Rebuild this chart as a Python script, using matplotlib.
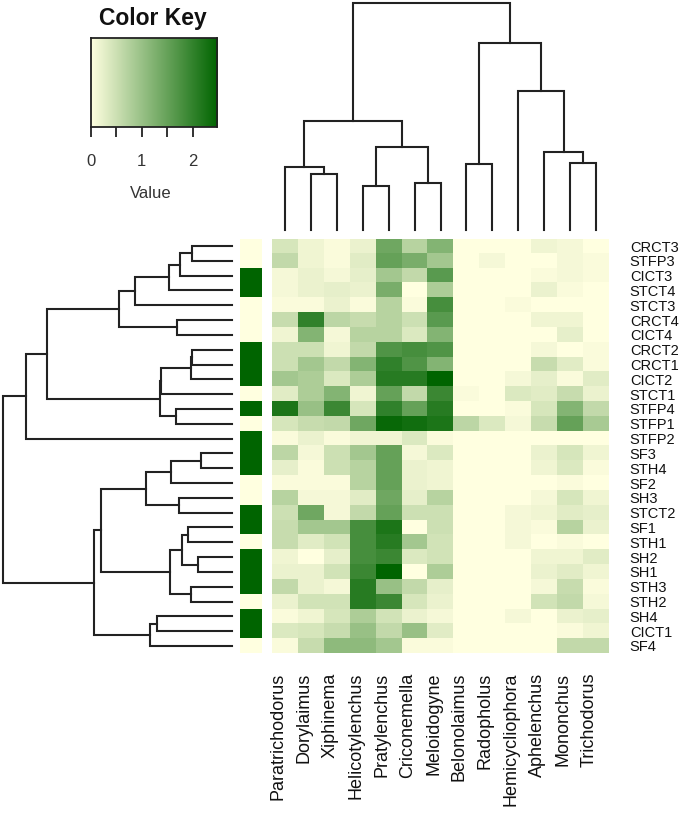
import numpy as np
import matplotlib
matplotlib.use('Agg')
import matplotlib.pyplot as plt
from matplotlib.colors import LinearSegmentedColormap
from matplotlib.transforms import ScaledTranslation

plt.rcParams['font.family'] = ['Liberation Sans', 'DejaVu Sans']

# column (genus) order as shown
genera = ['Paratrichodorus', 'Dorylaimus', 'Xiphinema', 'Helicotylenchus',
          'Pratylenchus', 'Criconemella', 'Meloidogyne', 'Belonolaimus',
          'Radopholus', 'Hemicycliophora', 'Aphelenchus', 'Mononchus',
          'Trichodorus']

# row (sample) order as shown
samples = ['CRCT3', 'STFP3', 'CICT3', 'STCT4', 'STCT3', 'CRCT4', 'CICT4',
           'CRCT2', 'CRCT1', 'CICT2', 'STCT1', 'STFP4', 'STFP1', 'STFP2',
           'SF3', 'STH4', 'SF2', 'SH3', 'STCT2', 'SF1', 'STH1', 'SH2',
           'SH1', 'STH3', 'STH2', 'SH4', 'CICT1', 'SF4']

# side colour bar: 1 = dark green, 0 = light yellow
row_group = [0, 0, 1, 1, 0, 0, 0, 1, 1, 1, 0, 1, 0, 1,
             1, 1, 0, 0, 1, 1, 0, 1, 1, 1, 0, 1, 1, 0]

# values (rows = samples, cols = genera)
values = [
    [0.40, 0.15, 0.05, 0.20, 1.40, 0.70, 1.20, 0.00, 0.00, 0.00, 0.15, 0.10, 0.00],
    [0.60, 0.15, 0.05, 0.30, 1.50, 1.30, 0.90, 0.00, 0.10, 0.00, 0.00, 0.10, 0.05],
    [0.10, 0.20, 0.10, 0.25, 0.90, 0.60, 1.60, 0.00, 0.00, 0.00, 0.05, 0.10, 0.05],
    [0.10, 0.20, 0.25, 0.20, 1.30, 0.00, 0.80, 0.00, 0.00, 0.00, 0.20, 0.05, 0.00],
    [0.05, 0.05, 0.20, 0.05, 0.70, 0.05, 1.80, 0.00, 0.00, 0.05, 0.00, 0.00, 0.00],
    [0.55, 2.00, 0.65, 0.55, 0.70, 0.50, 1.60, 0.00, 0.00, 0.00, 0.15, 0.15, 0.00],
    [0.15, 1.20, 0.10, 0.70, 0.70, 0.35, 1.20, 0.00, 0.00, 0.00, 0.00, 0.25, 0.00],
    [0.50, 0.50, 0.15, 0.60, 1.70, 1.80, 1.70, 0.00, 0.00, 0.00, 0.10, 0.00, 0.05],
    [0.50, 0.90, 0.60, 1.20, 2.00, 1.70, 1.20, 0.00, 0.00, 0.00, 0.55, 0.30, 0.05],
    [0.90, 0.80, 0.35, 0.80, 2.10, 2.10, 2.48, 0.00, 0.00, 0.10, 0.25, 0.05, 0.30],
    [0.30, 0.80, 1.20, 0.15, 1.50, 0.60, 1.90, 0.05, 0.00, 0.35, 0.30, 0.55, 0.20],
    [2.20, 1.00, 1.90, 0.40, 2.00, 1.50, 2.10, 0.00, 0.00, 0.05, 0.40, 1.20, 0.60],
    [0.40, 0.55, 0.60, 1.40, 2.40, 2.30, 2.20, 0.65, 0.35, 0.10, 0.55, 1.50, 0.85],
    [0.05, 0.20, 0.05, 0.15, 0.15, 0.35, 0.05, 0.00, 0.00, 0.00, 0.00, 0.00, 0.00],
    [0.65, 0.10, 0.50, 0.90, 1.50, 0.10, 0.35, 0.00, 0.00, 0.00, 0.20, 0.40, 0.15],
    [0.25, 0.05, 0.50, 0.70, 1.50, 0.20, 0.15, 0.00, 0.00, 0.00, 0.15, 0.35, 0.05],
    [0.05, 0.05, 0.05, 0.70, 1.50, 0.20, 0.15, 0.00, 0.00, 0.00, 0.00, 0.05, 0.00],
    [0.70, 0.10, 0.10, 0.30, 1.40, 0.25, 0.70, 0.00, 0.00, 0.00, 0.10, 0.40, 0.15],
    [0.50, 1.40, 0.10, 0.60, 1.50, 0.50, 0.50, 0.00, 0.00, 0.10, 0.15, 0.30, 0.25],
    [0.55, 0.90, 0.90, 1.80, 2.20, 0.00, 0.50, 0.00, 0.00, 0.10, 0.05, 0.70, 0.20],
    [0.55, 0.30, 0.45, 1.80, 2.10, 0.90, 0.45, 0.00, 0.00, 0.10, 0.00, 0.05, 0.00],
    [0.15, 0.00, 0.25, 1.80, 1.90, 0.35, 0.45, 0.00, 0.00, 0.00, 0.15, 0.15, 0.30],
    [0.20, 0.20, 0.45, 1.90, 2.48, 0.00, 0.80, 0.00, 0.00, 0.00, 0.20, 0.30, 0.15],
    [0.60, 0.20, 0.10, 2.10, 1.00, 0.60, 0.25, 0.00, 0.00, 0.00, 0.10, 0.55, 0.05],
    [0.20, 0.45, 0.45, 2.10, 1.90, 0.40, 0.20, 0.00, 0.00, 0.00, 0.45, 0.60, 0.10],
    [0.05, 0.15, 0.40, 0.80, 0.45, 0.20, 0.10, 0.00, 0.00, 0.10, 0.00, 0.20, 0.25],
    [0.35, 0.40, 0.55, 1.00, 0.60, 1.00, 0.30, 0.00, 0.00, 0.00, 0.00, 0.05, 0.15],
    [0.05, 0.55, 1.10, 1.10, 0.90, 0.05, 0.05, 0.00, 0.00, 0.00, 0.00, 0.60, 0.60],
]

# dendrogram merges (child a, child b, height), new nodes numbered from n
row_merges = [
    (0, 1, 39.7), (28, 2, 52.3), (29, 3, 63.0), (30, 4, 97.3),
    (5, 6, 55.0), (31, 32, 113.0), (7, 8, 39.7), (34, 9, 41.3),
    (11, 12, 56.3), (35, 10, 71.3), (37, 36, 72.0), (33, 38, 185.0),
    (39, 13, 205.7), (14, 15, 31.0), (41, 16, 61.3), (17, 18, 53.0),
    (42, 43, 85.7), (19, 20, 44.0), (21, 22, 33.7), (45, 46, 49.7),
    (23, 24, 41.3), (47, 48, 62.3), (44, 49, 131.3), (25, 26, 75.0),
    (51, 27, 81.7), (50, 52, 138.0), (40, 53, 229.0),
]
col_merges = [
    (1, 2, 56.3), (0, 13, 62.7), (3, 4, 44.0), (5, 6, 47.3),
    (15, 16, 83.0), (14, 17, 109.0), (7, 8, 66.0), (11, 12, 67.3),
    (10, 20, 78.0), (9, 21, 139.0), (19, 22, 186.7), (18, 23, 226.7),
]

data = np.array(values)
vmax = data.max()
cmap = LinearSegmentedColormap.from_list('ygreen', ['#FFFFE0', '#006400'])

W, H = 685, 816
fig = plt.figure(figsize=(W / 100, H / 100), dpi=100)


def px_axes(x0, y0, x1, y1):
    return fig.add_axes([x0 / W, 1 - y1 / H, (x1 - x0) / W, (y1 - y0) / H])


def draw_dendro(ax, merges, n, side):
    pos = {i: float(i) for i in range(n)}
    hgt = {i: 0.0 for i in range(n)}
    for k, (a, b, h) in enumerate(merges):
        xs = [pos[a], pos[a], pos[b], pos[b]]
        hs = [hgt[a], h, h, hgt[b]]
        if side == 'top':
            ax.plot(xs, hs, color='#222222', lw=1.5, clip_on=False,
                    solid_joinstyle='miter')
        else:
            ax.plot(hs, xs, color='#222222', lw=1.5, clip_on=False,
                    solid_joinstyle='miter')
        pos[n + k] = (pos[a] + pos[b]) / 2
        hgt[n + k] = h
    ax.axis('off')


nr, nc = data.shape
y_top, y_bot = 238.6, 653.4
x_left, x_right = 272, 609

# heatmap
ax = px_axes(x_left, y_top, x_right, y_bot)
ax.imshow(data, cmap=cmap, vmin=0, vmax=vmax, aspect='auto',
          interpolation='nearest')
ax.set_xticks(range(nc))
ax.set_xticklabels(genera, rotation=90, fontsize=13, color='#111111')
ax.set_yticks(range(nr))
ax.set_yticklabels(samples, fontsize=10.5, color='#111111')
ax.yaxis.tick_right()
ax.tick_params(axis='x', length=0, pad=14)
ax.tick_params(axis='y', length=0, pad=15)
shift = ScaledTranslation(-7 / 100, 0, fig.dpi_scale_trans)
for lab in ax.get_xticklabels():
    lab.set_transform(lab.get_transform() + shift)
for s in ax.spines.values():
    s.set_visible(False)

# side colour bar
ax_side = px_axes(240, y_top, 262, y_bot)
ax_side.imshow(np.array(row_group)[:, None], cmap=LinearSegmentedColormap.from_list(
    'side', ['#FFFFE0', '#006400']), vmin=0, vmax=1, aspect='auto',
    interpolation='nearest')
ax_side.axis('off')

# row dendrogram
ax_rd = px_axes(3, y_top, 232, y_bot)
draw_dendro(ax_rd, row_merges, nr, 'left')
ax_rd.set_ylim(nr - 0.5, -0.5)
ax_rd.set_xlim(229, 0)

# column dendrogram
ax_cd = px_axes(x_left, 3.3, x_right, 230)
draw_dendro(ax_cd, col_merges, nc, 'top')
ax_cd.set_xlim(-0.5, nc - 0.5)
ax_cd.set_ylim(0, 226.7)

# colour key
ax_key = px_axes(90.7, 38.3, 217.3, 126.7)
grad = np.linspace(0, vmax, 256)[None, :]
ax_key.imshow(grad, cmap=cmap, vmin=0, vmax=vmax, aspect='auto',
              extent=(0, vmax, 0, 1))
ax_key.set_xlim(0, vmax)
ax_key.set_yticks([])
ax_key.set_xticks([0, 0.5, 1, 1.5, 2])
ax_key.set_xticklabels(['0', '', '1', '', '2'], fontsize=12, color='#333333')
ax_key.tick_params(axis='x', length=7, width=1.3, pad=13, color='#222222')
for s in ax_key.spines.values():
    s.set_linewidth(1.3)
    s.set_color('#222222')
fig.text(153 / W, 1 - 19 / H, 'Color Key', fontsize=16.5, fontweight='bold',
         ha='center', va='center', color='#111111')
fig.text(151 / W, 1 - 193 / H, 'Value', fontsize=12, ha='center',
         va='center', color='#333333')

fig.savefig('out.png', dpi=100)
